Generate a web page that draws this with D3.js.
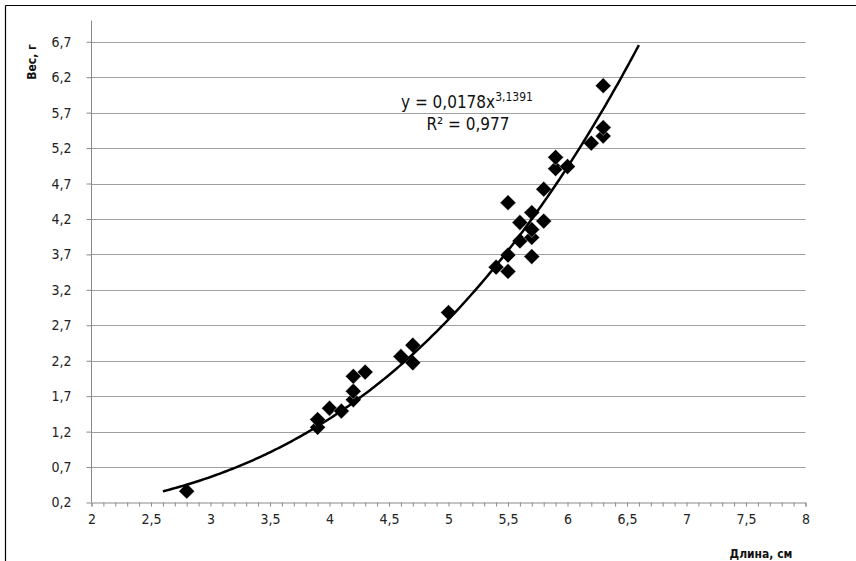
<!DOCTYPE html>
<html><head><meta charset="utf-8">
<script src="https://cdn.jsdelivr.net/npm/d3@7"></script>
<style>
html,body{margin:0;padding:0;background:#fff;}
svg{display:block;}
text{font-family:"Liberation Sans Narrow","DejaVu Sans Condensed",Lato,sans-serif;}
</style></head><body>
<svg id="chart" width="856" height="561"></svg>
<script>
const lengths = [2.8,3.9,3.9,4.0,4.1,4.2,4.2,4.2,4.3,4.6,4.7,4.7,5.0,5.4,5.5,5.5,5.5,5.6,5.6,5.7,5.7,5.7,5.7,5.8,5.8,5.9,5.9,6.0,6.2,6.3,6.3,6.3];
const weights = [0.36,1.26,1.37,1.53,1.49,1.65,1.77,1.98,2.04,2.26,2.42,2.17,2.88,3.52,3.46,3.69,4.43,3.89,4.15,3.67,3.94,4.05,4.29,4.17,4.62,4.91,5.07,4.94,5.27,5.37,5.49,6.08];
const xTickValues = [2,2.5,3,3.5,4,4.5,5,5.5,6,6.5,7,7.5,8];
const yTickValues = [0.2,0.7,1.2,1.7,2.2,2.7,3.2,3.7,4.2,4.7,5.2,5.7,6.2,6.7];
const trendCoef = [0.0178, 3.1391];
const trendRange = [2.6, 6.6];
const equationText = ["y = 0,0178x", "3,1391"];
const r2Text = "R² = 0,977";
const xTitle = "Длина, см";
const yTitle = "Вес, г";

const svg = d3.select("#chart");
const x = d3.scaleLinear().domain([2, 8]).range([91.5, 805.5]);
const y = d3.scaleLinear().domain([0.2, 7.0]).range([502.5, 20.5]);
const loc = d3.formatLocale({decimal: ",", thousands: " ", grouping: [3], currency: ["", ""]});
const fmt = v => loc.format("~g")(+v.toFixed(2));

// frame
svg.append("line").attr("x1",5.5).attr("x2",856).attr("y1",5.5).attr("y2",5.5).attr("stroke","#000").attr("stroke-width",1.2);
svg.append("line").attr("x1",5.5).attr("x2",5.5).attr("y1",5.5).attr("y2",561).attr("stroke","#000").attr("stroke-width",1.2);

// gridlines
svg.append("g").selectAll("line").data(yTickValues.slice(1)).join("line")
  .attr("x1", x(2)).attr("x2", x(8))
  .attr("y1", d => Math.round(y(d)) + 0.5).attr("y2", d => Math.round(y(d)) + 0.5)
  .attr("stroke", "#a0a0a0").attr("stroke-width", 1.2);

// y axis
const yAxis = d3.axisLeft(y).tickValues(yTickValues).tickSize(5).tickPadding(15).tickFormat(fmt);
const gy = svg.append("g").attr("transform", `translate(${x(2)},0)`).call(yAxis);
gy.select(".domain").attr("stroke", "#8a8a8a").attr("d", `M0,${y(7.0)}V${y(0.2)}`);
gy.selectAll(".tick line").attr("stroke", "#8a8a8a");
gy.selectAll(".tick text").attr("font-size", 14).attr("fill", "#222");

// x axis
const minorTicks = d3.range(20, 81).map(v => v / 10);
const xMinor = d3.axisBottom(x).tickValues(minorTicks).tickSize(4).tickFormat("");
const gxm = svg.append("g").attr("transform", `translate(0,${y(0.2)})`).call(xMinor);
gxm.select(".domain").attr("stroke", "#8a8a8a");
gxm.selectAll(".tick line").attr("stroke", "#8a8a8a");
const xAxis = d3.axisBottom(x).tickValues(xTickValues).tickSize(0).tickPadding(12).tickFormat(fmt);
const gx = svg.append("g").attr("transform", `translate(0,${y(0.2)})`).call(xAxis);
gx.select(".domain").remove();
gx.selectAll(".tick text").attr("font-size", 14).attr("fill", "#222");

// markers
const diamond = d3.symbol().type(d3.symbolSquare).size(125);
svg.append("g").selectAll("path").data(lengths.map((l, i) => [l, weights[i]])).join("path")
  .attr("d", diamond)
  .attr("transform", d => `translate(${x(d[0])},${y(d[1])}) rotate(45)`)
  .attr("fill", "#000").attr("stroke", "#fff").attr("stroke-width", 0.4);

// trend line
const trendXs = d3.range(0, 201).map(i => trendRange[0] + (trendRange[1] - trendRange[0]) * i / 200);
svg.append("path")
  .datum(trendXs)
  .attr("d", d3.line().x(v => x(v)).y(v => y(trendCoef[0] * Math.pow(v, trendCoef[1]))))
  .attr("fill", "none").attr("stroke", "#000").attr("stroke-width", 2.5);

// equation
const eq = svg.append("text").attr("x", 401).attr("y", 108).attr("font-size", 17).attr("fill", "#111");
eq.append("tspan").text(equationText[0]);
eq.append("tspan").attr("dy", -7).attr("font-size", 12).text(equationText[1]);
svg.append("text").attr("x", 468).attr("y", 130).attr("text-anchor", "middle").attr("font-size", 17).attr("fill", "#111").text(r2Text);

// axis titles
svg.append("text").attr("x", 761).attr("y", 558).attr("text-anchor", "middle")
  .attr("font-size", 12).attr("font-weight", "bold").attr("fill", "#111").text(xTitle);
svg.append("text").attr("transform", "translate(36,62) rotate(-90)").attr("text-anchor", "middle")
  .attr("font-size", 12).attr("font-weight", "bold").attr("fill", "#111").text(yTitle);
</script>
</body></html>
